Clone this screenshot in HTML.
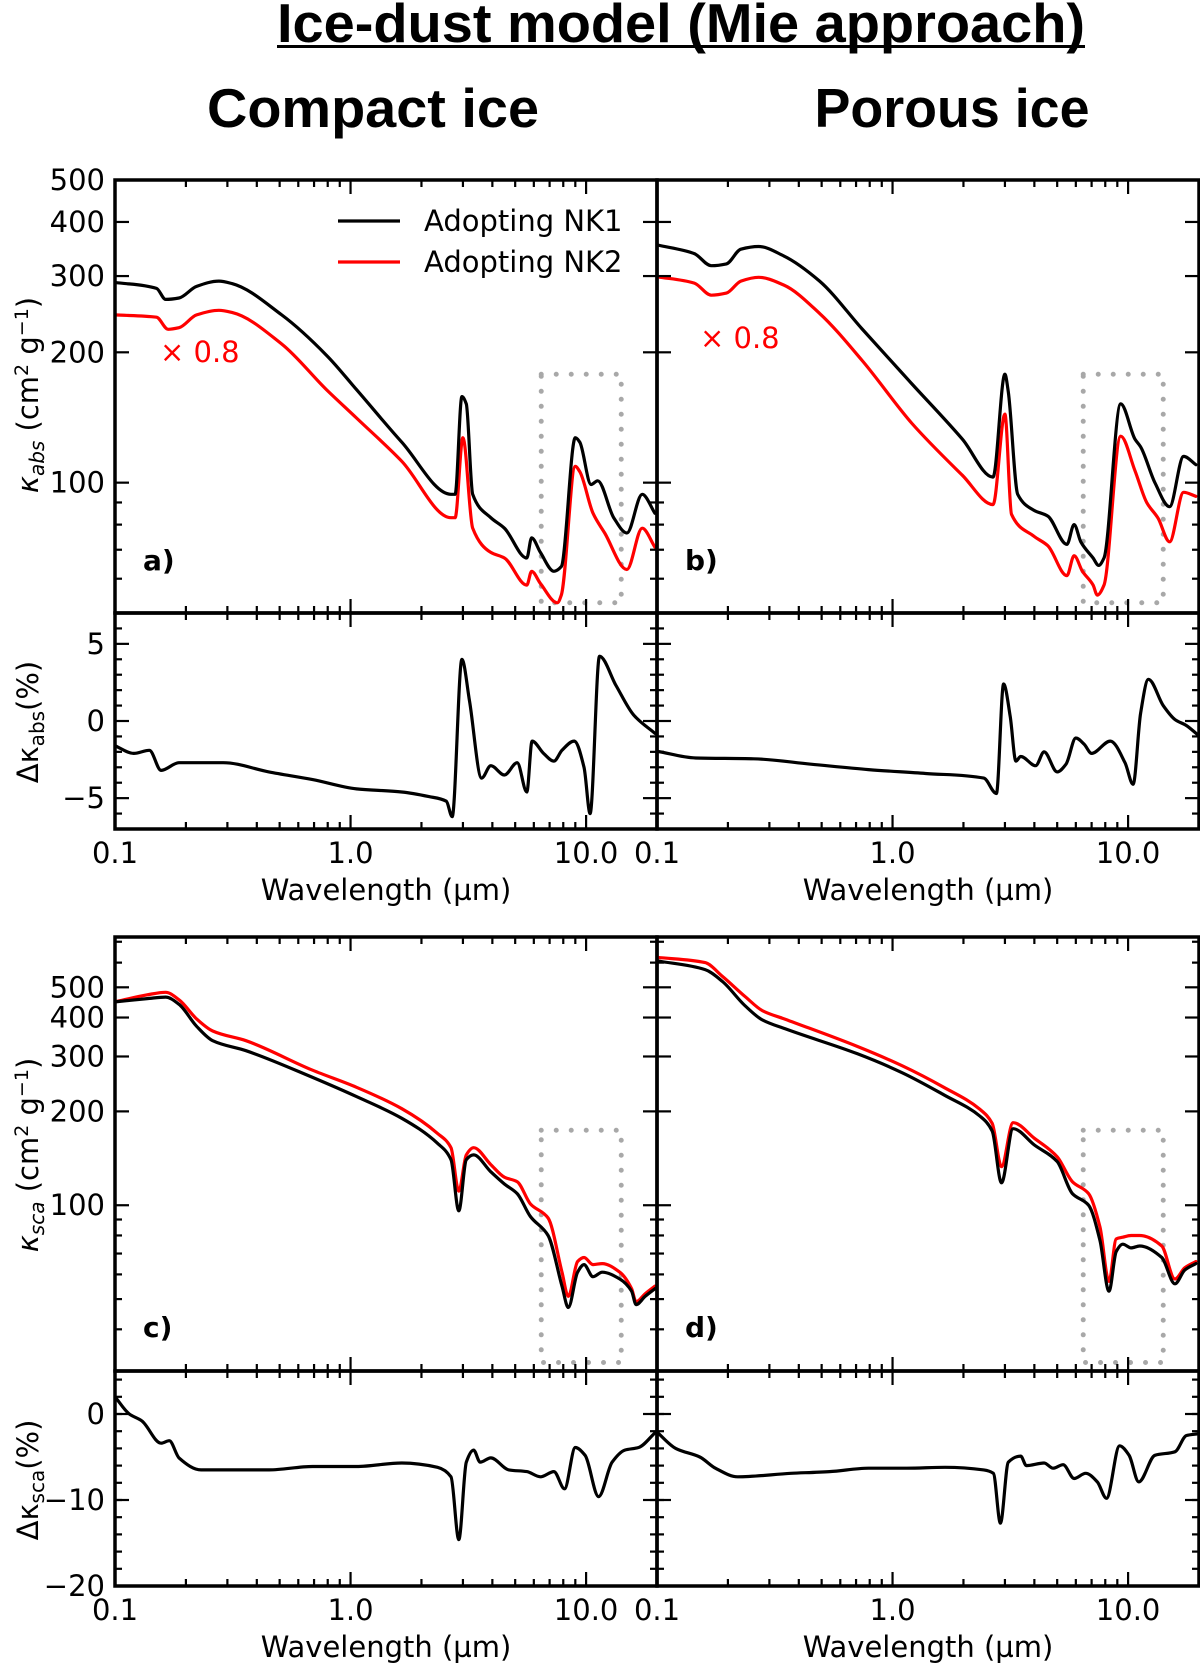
<!DOCTYPE html>
<html><head><meta charset="utf-8"><style>
html,body{margin:0;padding:0;background:#fff;}
svg{display:block;}
text{font-family:"DejaVu Sans","Liberation Sans",sans-serif;}
.ttl{font-family:"Liberation Sans",sans-serif;font-weight:bold;}
</style></head><body>
<svg id="fig" width="1200" height="1667" viewBox="0 0 1200 1667" xmlns="http://www.w3.org/2000/svg">
<text class="ttl" x="681" y="42" font-size="55" text-anchor="middle" textLength="808" lengthAdjust="spacingAndGlyphs">Ice-dust model (Mie approach)</text>
<rect x="277" y="45" width="808" height="3" fill="#000"/>
<text class="ttl" x="373" y="127" font-size="55" text-anchor="middle" textLength="332" lengthAdjust="spacingAndGlyphs">Compact ice</text>
<text class="ttl" x="952" y="127" font-size="55" text-anchor="middle" textLength="275" lengthAdjust="spacingAndGlyphs">Porous ice</text>
<g id="plots"></g>
</svg>
<script>
// ---- data ----
const wlA1 = [0.1,0.15,0.164,0.187,0.222,0.276,0.315,0.51,0.79,1.06,1.65,2.67,2.78,2.97,3.1,3.3,3.94,4.5,5.6,5.87,6.4,7.3,7.85,9.0,9.4,10.5,11.2,13.1,14.9,17.3,19.6];
const absA1 = [290,281,265,267,284,292,288,244,197,164,124,94,94,158,152,94,83,78.5,67,74.6,69,62.4,64,127,124,99,101,83,76.5,94,85];
const wlA2 = [0.1,0.15,0.168,0.187,0.222,0.276,0.315,0.51,0.79,1.06,1.65,2.67,2.78,3.0,3.3,3.94,4.5,5.6,5.87,6.4,7.55,7.85,9.0,9.4,10.7,12.0,14.9,17.3,19.6];
const absA2 = [244,241,226,228,244,250,247,209,164,141,112,83,83,127,78.5,69,67,58,62.4,58.5,52.8,55,109,106,85,76.5,63,78.5,71];
const wlB1 = [0.1,0.144,0.17,0.197,0.227,0.27,0.345,0.49,0.74,1.21,1.98,2.67,3.0,3.1,3.4,3.97,4.56,5.5,5.9,6.3,7.1,7.5,7.9,9.3,10.7,11.3,13.0,15.0,17.2,19.4];
const absB1 = [354,338,317,320,346,351,334,292,227,169,126,103,178,162,94,86.4,83.7,72,80,73,67,64.4,67,152,126,121,100,88,115,110];
const wlB2 = [0.1,0.144,0.17,0.197,0.227,0.27,0.345,0.49,0.74,1.21,1.98,2.67,3.0,3.2,3.97,4.56,5.5,5.9,6.4,7.1,7.4,7.9,9.3,10.7,12.0,13.4,15.0,17.2,19.4];
const absB2 = [299,289,271,274,292,298,286,246,192,137,104,89,144,84.5,75.3,71.5,61,67.8,62.4,58,55,58,128,106.5,90,82.8,73,95,93];
const wlC = [0.1,0.137,0.164,0.187,0.222,0.26,0.36,0.69,1.06,1.65,2.34,2.67,2.88,3.1,3.33,3.94,4.5,5.1,5.8,6.9,7.9,8.4,9.2,9.8,10.7,11.7,13.9,15.6,16.3,17.8,19.6];
const scaC1 = [449,460,465,441,375,337,313,257,223,190,158,140,96,140,145,128,117,109,92,80,55,47,61,64.5,59,61,58,53,48,51,54];
const scaC2 = [449,473,482,456,396,362,337,271,239,204,170,153,111,145,153,135,123,119,101,91,61,51,66,68,64.5,65,61,54,49,52,55];
const wlD = [0.1,0.16,0.19,0.236,0.28,0.35,0.71,1.1,1.65,2.35,2.65,2.9,3.25,4.0,5.0,5.8,6.8,7.6,8.3,8.9,9.5,10.3,11.2,13.9,15.8,17.4,19.4];
const scaD1 = [608,570,521,437,393,368,306,266,226,193,173,118,176,156,138,109,100,77,53,71,75,73,74,68,56,62,65];
const scaD2 = [624,600,541,468,421,395,323,280,239,203,183,133,184,164,143,119,109,85,57,78,79,80,80,74,58,63,66];
const wlDA = [0.1,0.12,0.14,0.157,0.187,0.232,0.288,0.45,0.69,1.06,1.65,2.15,2.55,2.7,2.97,3.2,3.6,3.94,4.5,5.1,5.6,5.9,6.6,7.3,7.9,8.9,9.8,10.4,11.4,13.4,15.9,19.6];
const dA = [-1.6,-2.1,-1.9,-3.2,-2.7,-2.7,-2.7,-3.3,-3.8,-4.4,-4.6,-4.9,-5.2,-6.2,4.0,1.3,-3.7,-2.9,-3.5,-2.7,-4.6,-1.3,-2.1,-2.6,-1.9,-1.3,-3.0,-6.0,4.2,2.3,0.4,-0.8];
const wlDB = [0.1,0.146,0.257,0.45,0.79,1.38,2.44,2.76,2.96,3.16,3.34,3.5,4.05,4.4,5.0,5.45,6.0,6.5,7.0,8.4,9.7,10.5,11.3,12.2,14.1,15.8,17.7,19.8];
const dB = [-1.96,-2.4,-2.45,-2.8,-3.15,-3.4,-3.7,-4.7,2.4,0.3,-2.6,-2.3,-2.9,-2.0,-3.3,-2.8,-1.1,-1.5,-2.1,-1.3,-2.7,-4.1,0.5,2.7,1.0,0.1,-0.3,-0.9];
const wlDC = [0.1,0.115,0.13,0.157,0.17,0.187,0.232,0.45,0.69,1.06,1.65,2.34,2.67,2.88,3.1,3.33,3.55,3.94,4.7,5.6,6.4,7.3,8.1,9.0,9.9,11.3,12.9,14.6,16.7,19.6];
const dC = [2.0,0,-0.8,-3.4,-3.1,-5.1,-6.5,-6.5,-6.1,-6.1,-5.7,-6.2,-7.3,-14.6,-5.6,-4.2,-5.6,-5.1,-6.5,-6.7,-7.3,-6.7,-8.7,-3.9,-4.8,-9.6,-5.6,-4.2,-3.9,-2.2];
const wlDD = [0.1,0.12,0.152,0.177,0.22,0.37,0.54,0.79,1.15,1.67,2.44,2.68,2.87,3.1,3.5,3.7,4.4,4.8,5.3,5.9,6.6,7.4,8.1,9.2,10.1,11.1,13.0,15.8,17.7,19.8];
const dD = [-2.1,-4.0,-5.0,-6.3,-7.3,-6.9,-6.7,-6.3,-6.3,-6.2,-6.5,-6.9,-12.7,-5.6,-4.9,-6.0,-5.7,-6.3,-5.9,-7.5,-6.9,-7.9,-9.8,-3.7,-4.8,-7.9,-4.8,-4.4,-2.5,-2.3];
const xTickVals = [0.1,1,10];
const xTickLabels = ["0.1","1.0","10.0"];
const absTicks = [100,200,300,400,500];
const scaTicks = [100,200,300,400,500];
const dAbsTicks = [5,0,-5];
const dAbsLabels = ["5","0","\u22125"];
const dScaTicks = [0,-10,-20];
const dScaLabels = ["0","\u221210","\u221220"];
const boxWl = [6.45,14.1];
const boxAbs = [52.8,178];
const boxSca = [31.3,174];

const NS = "http://www.w3.org/2000/svg";
const root = document.getElementById('plots');
const FS = 29;
function mk(tag, attrs, parent){const e=document.createElementNS(NS,tag);for(const k in attrs)e.setAttribute(k,attrs[k]);(parent||root).appendChild(e);return e;}

function xScale(x0,x1){const l0=Math.log10(0.1),l1=Math.log10(20);return v=>x0+(Math.log10(v)-l0)/(l1-l0)*(x1-x0);}
function yLog(y0,y1,vmin,vmax){const a=Math.log10(vmin),b=Math.log10(vmax);return v=>y1-(Math.log10(v)-a)/(b-a)*(y1-y0);}
function yLin(y0,y1,vmin,vmax){return v=>y1-(v-vmin)/(vmax-vmin)*(y1-y0);}

// monotone cubic path through pixel points
function monoPath(px,py){
  const n=px.length; const d=[],m=new Array(n).fill(0);
  for(let i=0;i<n-1;i++) d.push((py[i+1]-py[i])/(px[i+1]-px[i]));
  m[0]=d[0]; m[n-1]=d[n-2];
  for(let i=1;i<n-1;i++){ if(d[i-1]*d[i]<=0) m[i]=0; else { const w1=2*(px[i+1]-px[i])+(px[i]-px[i-1]); const w2=(px[i+1]-px[i])+2*(px[i]-px[i-1]); m[i]=(w1+w2)/(w1/d[i-1]+w2/d[i]); } }
  let s='M'+px[0].toFixed(1)+','+py[0].toFixed(1);
  for(let i=0;i<n-1;i++){ const h=px[i+1]-px[i];
    s+='C'+(px[i]+h/3).toFixed(1)+','+(py[i]+m[i]*h/3).toFixed(1)+' '+(px[i+1]-h/3).toFixed(1)+','+(py[i+1]-m[i+1]*h/3).toFixed(1)+' '+px[i+1].toFixed(1)+','+py[i+1].toFixed(1);}
  return s;
}

let clipId=0;
function series(xs,ys,X,Y,x0,y0,x1,y1,color,name){
  const id='clip'+(clipId++);
  const cp=mk('clipPath',{id:id});
  mk('rect',{x:x0,y:y0,width:x1-x0,height:y1-y0},cp);
  const px=xs.map(w=>X(w)), py=ys.map(v=>Y(v));
  const p=mk('path',{d:monoPath(px,py),fill:'none',stroke:color,'stroke-width':3.2,'stroke-linejoin':'round','stroke-linecap':'round','clip-path':'url(#'+id+')'});
  
  
}
function box(X,Y,ylo,yhi,name){
  const xa=X(boxWl[0]),xb=X(boxWl[1]),ya=Y(yhi),yb=Y(ylo);
  const r=mk('path',{d:`M${xa},${ya}L${xb},${ya}L${xb},${yb}L${xa},${yb}Z`,fill:'none',stroke:'#a8a8a8','stroke-width':5,'stroke-linecap':'round','stroke-dasharray':'0 15'});
  
  
}
function xticks(X,x0,x1,y0,y1){
  for(let dec=0.1;dec<20;dec*=10){
    for(let m=1;m<10;m++){
      const v=dec*m; if(v>20.001) break;
      const x=X(v); const L=(m===1)?14:7;
      mk('line',{x1:x,x2:x,y1:y1,y2:y1-L,stroke:'#000','stroke-width':2.2});
      mk('line',{x1:x,x2:x,y1:y0,y2:y0+L,stroke:'#000','stroke-width':2.2});
    }
  }
}
function ytickLine(y,x0,x1,L){
  mk('line',{x1:x0,x2:x0+L,y1:y,y2:y,stroke:'#000','stroke-width':2.2});
  mk('line',{x1:x1,x2:x1-L,y1:y,y2:y,stroke:'#000','stroke-width':2.2});
}
function frame(x0,y0,x1,y1,name){
  const r=mk('rect',{x:x0,y:y0,width:x1-x0,height:y1-y0,fill:'none',stroke:'#000','stroke-width':3.5});
  
  
}
function label(x,y,txt,opts,name){
  const t=mk('text',Object.assign({x:x,y:y,'font-size':FS,fill:'#000'},opts||{}));
  t.textContent=txt;
  
  
  return t;
}

const cols=[[115,657],[657,1199]];
const rowTop={main:[180,613],delta:[613,829]};
const rowBot={main:[937,1371],delta:[1371,1586]};

function panel(col,isAbs,showY,tag,m1x,m1,m2x,m2,dx,dv){
  const [x0,x1]=cols[col];
  const R=isAbs?rowTop:rowBot;
  const X=xScale(x0,x1);
  const Ym=isAbs?yLog(R.main[0],R.main[1],50,500):yLog(R.main[0],R.main[1],29.4,725);
  const Yd=isAbs?yLin(R.delta[0],R.delta[1],-7,7):yLin(R.delta[0],R.delta[1],-20,5);
  box(X,Ym,isAbs?boxAbs[0]:boxSca[0],isAbs?boxAbs[1]:boxSca[1],'highlight-box-'+tag);
  series(m2x,m2,X,Ym,x0,R.main[0],x1,R.main[1],'#ff0000','nk2-curve-'+tag);
  series(m1x,m1,X,Ym,x0,R.main[0],x1,R.main[1],'#000','nk1-curve-'+tag);
  series(dx,dv,X,Yd,x0,R.delta[0],x1,R.delta[1],'#000','delta-curve-'+tag);
  const majors=isAbs?absTicks:scaTicks;
  const minorList=isAbs?[60,70,80,90]:[40,50,60,70,80,90,600,700];
  majors.forEach(v=>ytickLine(Ym(v),x0,x1,14));
  minorList.forEach(v=>ytickLine(Ym(v),x0,x1,7));
  if(isAbs){for(let v=-7;v<=7;v++){ytickLine(Yd(v),x0,x1,(v%5===0)?14:7);}}
  else{for(let v=-20;v<=5;v+=2){ytickLine(Yd(v),x0,x1,7);} dScaTicks.forEach(v=>ytickLine(Yd(v),x0,x1,14));}
  xticks(X,x0,x1,R.main[0],R.main[1]);
  xticks(X,x0,x1,R.delta[0],R.delta[1]);
  frame(x0,R.main[0],x1,R.main[1],'main-axes-'+tag);
  frame(x0,R.delta[0],x1,R.delta[1],'delta-axes-'+tag);
  if(showY){
    majors.forEach(v=>label(x0-10,Ym(v)+10,String(v),{'text-anchor':'end'},'y-tick-label'));
    const dt=isAbs?dAbsTicks:dScaTicks, dl=isAbs?dAbsLabels:dScaLabels;
    dt.forEach((v,i)=>label(x0-10,Yd(v)+10,dl[i],{'text-anchor':'end'},'delta-y-tick-label'));
  }
  const xl=R.delta[1]+34;
  xTickVals.forEach((v,i)=>label(X(v),xl,xTickLabels[i],{'text-anchor':'middle'},'x-tick-label'));
  label((x0+x1)/2,R.delta[1]+71,'Wavelength (\u00b5m)',{'text-anchor':'middle'},'x-axis-title');
  label(x0+28,isAbs?570:1337,tag+')',{'font-weight':'bold','font-family':'Liberation Sans, sans-serif','font-size':28},'panel-label-'+tag);
}
panel(0,true,true,'a',wlA1,absA1,wlA2,absA2,wlDA,dA);
panel(1,true,false,'b',wlB1,absB1,wlB2,absB2,wlDB,dB);
panel(0,false,true,'c',wlC,scaC1,wlC,scaC2,wlDC,dC);
panel(1,false,false,'d',wlD,scaD1,wlD,scaD2,wlDD,dD);

function ytitle(cx,cy,html,name){
  const t=mk('text',{x:0,y:0,'font-size':FS,'text-anchor':'middle',transform:`translate(${cx},${cy}) rotate(-90)`});
  t.innerHTML=html;
  
  
}
ytitle(38,395,'<tspan font-style="italic">κ</tspan><tspan font-style="italic" font-size="20" dy="6">abs</tspan><tspan dy="-6"> (cm</tspan><tspan font-size="19" dy="-10">2</tspan><tspan dy="10"> g</tspan><tspan font-size="19" dy="-10">−1</tspan><tspan dy="10">)</tspan>','y-axis-title-abs');
ytitle(38,722,'Δκ<tspan font-size="20" dy="6">abs</tspan><tspan dy="-6">(%)</tspan>','y-axis-title-delta-abs');
ytitle(38,1155,'<tspan font-style="italic">κ</tspan><tspan font-style="italic" font-size="20" dy="6">sca</tspan><tspan dy="-6"> (cm</tspan><tspan font-size="19" dy="-10">2</tspan><tspan dy="10"> g</tspan><tspan font-size="19" dy="-10">−1</tspan><tspan dy="10">)</tspan>','y-axis-title-sca');
ytitle(38,1480,'Δκ<tspan font-size="20" dy="6">sca</tspan><tspan dy="-6">(%)</tspan>','y-axis-title-delta-sca');

const lg=mk('g',{});


mk('line',{x1:338,x2:400,y1:221,y2:221,stroke:'#000','stroke-width':3.2},lg);
mk('line',{x1:338,x2:400,y1:262,y2:262,stroke:'#ff0000','stroke-width':3.2},lg);
const l1=mk('text',{x:424,y:231,'font-size':FS},lg); l1.textContent='Adopting NK1';


const l2=mk('text',{x:424,y:272,'font-size':FS},lg); l2.textContent='Adopting NK2';


label(160,362,'\u00d7 0.8',{fill:'#ff0000'},'scale-note-a');
label(700,348,'\u00d7 0.8',{fill:'#ff0000'},'scale-note-b');
</script>
</body></html>
